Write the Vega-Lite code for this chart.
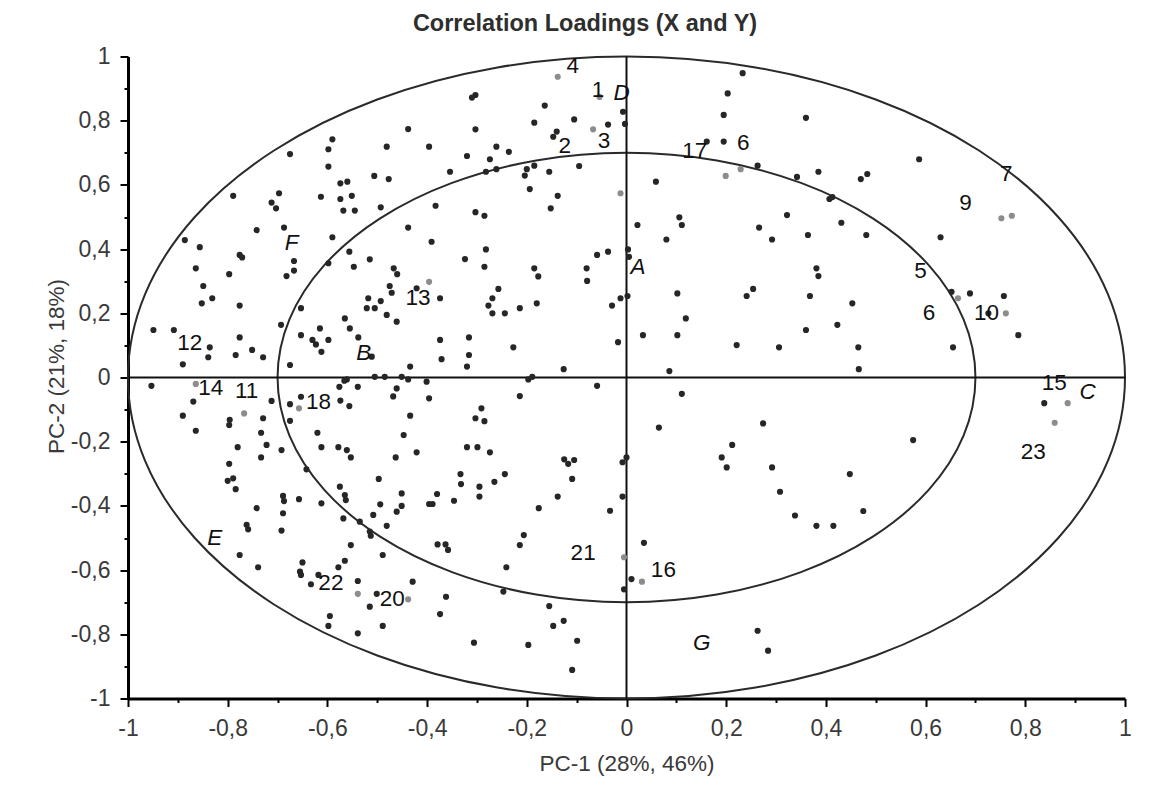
{
  "$schema": "https://vega.github.io/schema/vega-lite/v6.json",
  "autosize": {"type": "none"},
  "padding": {"left": 128, "top": 56.5, "right": 30, "bottom": 113.5},
  "width": 997,
  "height": 642,
  "background": "white",
  "title": {
    "text": "Correlation Loadings (X and Y)",
    "font": "Liberation Sans",
    "fontSize": 23.5,
    "fontWeight": "bold",
    "color": "#2e2e2e",
    "anchor": "middle",
    "dx": -41.5,
    "offset": 10
  },
  "config": {
    "view": {"stroke": null},
    "locale": {"number": {"decimal": ",", "thousands": ".", "grouping": [3], "currency": ["", " €"], "minus": "-"}}
  },
  "datasets": {
    "rings": [
      {"ring": "outer", "k": 0, "x": 1, "y": 0},
      {"ring": "outer", "k": 1, "x": 0.96593, "y": 0.25882},
      {"ring": "outer", "k": 2, "x": 0.86603, "y": 0.5},
      {"ring": "outer", "k": 3, "x": 0.70711, "y": 0.70711},
      {"ring": "outer", "k": 4, "x": 0.5, "y": 0.86603},
      {"ring": "outer", "k": 5, "x": 0.25882, "y": 0.96593},
      {"ring": "outer", "k": 6, "x": 0, "y": 1},
      {"ring": "outer", "k": 7, "x": -0.25882, "y": 0.96593},
      {"ring": "outer", "k": 8, "x": -0.5, "y": 0.86603},
      {"ring": "outer", "k": 9, "x": -0.70711, "y": 0.70711},
      {"ring": "outer", "k": 10, "x": -0.86603, "y": 0.5},
      {"ring": "outer", "k": 11, "x": -0.96593, "y": 0.25882},
      {"ring": "outer", "k": 12, "x": -1, "y": 0},
      {"ring": "outer", "k": 13, "x": -0.96593, "y": -0.25882},
      {"ring": "outer", "k": 14, "x": -0.86603, "y": -0.5},
      {"ring": "outer", "k": 15, "x": -0.70711, "y": -0.70711},
      {"ring": "outer", "k": 16, "x": -0.5, "y": -0.86603},
      {"ring": "outer", "k": 17, "x": -0.25882, "y": -0.96593},
      {"ring": "outer", "k": 18, "x": 0, "y": -1},
      {"ring": "outer", "k": 19, "x": 0.25882, "y": -0.96593},
      {"ring": "outer", "k": 20, "x": 0.5, "y": -0.86603},
      {"ring": "outer", "k": 21, "x": 0.70711, "y": -0.70711},
      {"ring": "outer", "k": 22, "x": 0.86603, "y": -0.5},
      {"ring": "outer", "k": 23, "x": 0.96593, "y": -0.25882},
      {"ring": "inner", "k": 0, "x": 0.7, "y": 0},
      {"ring": "inner", "k": 1, "x": 0.67615, "y": 0.18117},
      {"ring": "inner", "k": 2, "x": 0.60622, "y": 0.35},
      {"ring": "inner", "k": 3, "x": 0.49497, "y": 0.49497},
      {"ring": "inner", "k": 4, "x": 0.35, "y": 0.60622},
      {"ring": "inner", "k": 5, "x": 0.18117, "y": 0.67615},
      {"ring": "inner", "k": 6, "x": 0, "y": 0.7},
      {"ring": "inner", "k": 7, "x": -0.18117, "y": 0.67615},
      {"ring": "inner", "k": 8, "x": -0.35, "y": 0.60622},
      {"ring": "inner", "k": 9, "x": -0.49497, "y": 0.49497},
      {"ring": "inner", "k": 10, "x": -0.60622, "y": 0.35},
      {"ring": "inner", "k": 11, "x": -0.67615, "y": 0.18117},
      {"ring": "inner", "k": 12, "x": -0.7, "y": 0},
      {"ring": "inner", "k": 13, "x": -0.67615, "y": -0.18117},
      {"ring": "inner", "k": 14, "x": -0.60622, "y": -0.35},
      {"ring": "inner", "k": 15, "x": -0.49497, "y": -0.49497},
      {"ring": "inner", "k": 16, "x": -0.35, "y": -0.60622},
      {"ring": "inner", "k": 17, "x": -0.18117, "y": -0.67615},
      {"ring": "inner", "k": 18, "x": 0, "y": -0.7},
      {"ring": "inner", "k": 19, "x": 0.18117, "y": -0.67615},
      {"ring": "inner", "k": 20, "x": 0.35, "y": -0.60622},
      {"ring": "inner", "k": 21, "x": 0.49497, "y": -0.49497},
      {"ring": "inner", "k": 22, "x": 0.60622, "y": -0.35},
      {"ring": "inner", "k": 23, "x": 0.67615, "y": -0.18117}
    ],
    "crosshair": [
      {"x": -1, "x2": 1, "y": 0, "y2": 0},
      {"x": 0, "x2": 0, "y": -1, "y2": 1}
    ],
    "loadings": [
      {"x": -0.675, "y": 0.696, "tone": "d"}, {"x": -0.590, "y": 0.742, "tone": "d"}, {"x": -0.598, "y": 0.711, "tone": "d"},
      {"x": -0.598, "y": 0.657, "tone": "d"}, {"x": -0.481, "y": 0.719, "tone": "d"}, {"x": -0.789, "y": 0.566, "tone": "d"},
      {"x": -0.697, "y": 0.574, "tone": "d"}, {"x": -0.712, "y": 0.545, "tone": "d"}, {"x": -0.703, "y": 0.527, "tone": "d"},
      {"x": -0.613, "y": 0.563, "tone": "d"}, {"x": -0.574, "y": 0.605, "tone": "d"}, {"x": -0.560, "y": 0.610, "tone": "d"},
      {"x": -0.574, "y": 0.556, "tone": "d"}, {"x": -0.551, "y": 0.566, "tone": "d"}, {"x": -0.568, "y": 0.520, "tone": "d"},
      {"x": -0.545, "y": 0.520, "tone": "d"}, {"x": -0.506, "y": 0.628, "tone": "d"}, {"x": -0.477, "y": 0.618, "tone": "d"},
      {"x": -0.493, "y": 0.530, "tone": "d"}, {"x": -0.742, "y": 0.459, "tone": "d"}, {"x": -0.687, "y": 0.467, "tone": "d"},
      {"x": -0.590, "y": 0.437, "tone": "d"}, {"x": -0.886, "y": 0.428, "tone": "d"}, {"x": -0.856, "y": 0.406, "tone": "d"},
      {"x": -0.776, "y": 0.382, "tone": "d"}, {"x": -0.771, "y": 0.374, "tone": "d"}, {"x": -0.556, "y": 0.392, "tone": "d"},
      {"x": -0.515, "y": 0.368, "tone": "d"}, {"x": -0.598, "y": 0.356, "tone": "d"}, {"x": -0.667, "y": 0.363, "tone": "d"},
      {"x": -0.667, "y": 0.333, "tone": "d"}, {"x": -0.682, "y": 0.316, "tone": "d"}, {"x": -0.864, "y": 0.340, "tone": "d"},
      {"x": -0.797, "y": 0.322, "tone": "d"}, {"x": -0.547, "y": 0.345, "tone": "d"}, {"x": -0.467, "y": 0.340, "tone": "d"},
      {"x": -0.460, "y": 0.322, "tone": "d"}, {"x": -0.138, "y": 0.937, "tone": "g"}, {"x": 0.233, "y": 0.948, "tone": "d"},
      {"x": 0.203, "y": 0.885, "tone": "d"}, {"x": 0.195, "y": 0.818, "tone": "d"}, {"x": -0.054, "y": 0.874, "tone": "g"},
      {"x": -0.007, "y": 0.828, "tone": "d"}, {"x": -0.003, "y": 0.790, "tone": "d"}, {"x": -0.310, "y": 0.872, "tone": "d"},
      {"x": -0.303, "y": 0.880, "tone": "d"}, {"x": -0.164, "y": 0.847, "tone": "d"}, {"x": -0.185, "y": 0.794, "tone": "d"},
      {"x": -0.105, "y": 0.804, "tone": "d"}, {"x": -0.037, "y": 0.788, "tone": "d"}, {"x": -0.067, "y": 0.773, "tone": "g"},
      {"x": -0.140, "y": 0.766, "tone": "d"}, {"x": -0.147, "y": 0.750, "tone": "d"}, {"x": -0.438, "y": 0.774, "tone": "d"},
      {"x": -0.303, "y": 0.773, "tone": "d"}, {"x": -0.396, "y": 0.719, "tone": "d"}, {"x": -0.261, "y": 0.719, "tone": "d"},
      {"x": -0.320, "y": 0.690, "tone": "d"}, {"x": -0.274, "y": 0.680, "tone": "d"}, {"x": -0.236, "y": 0.703, "tone": "d"},
      {"x": -0.354, "y": 0.641, "tone": "d"}, {"x": -0.282, "y": 0.641, "tone": "d"}, {"x": -0.261, "y": 0.649, "tone": "d"},
      {"x": -0.185, "y": 0.660, "tone": "d"}, {"x": -0.200, "y": 0.649, "tone": "d"}, {"x": -0.204, "y": 0.629, "tone": "d"},
      {"x": -0.155, "y": 0.641, "tone": "d"}, {"x": -0.095, "y": 0.659, "tone": "d"}, {"x": -0.194, "y": 0.587, "tone": "d"},
      {"x": -0.138, "y": 0.566, "tone": "d"}, {"x": -0.152, "y": 0.527, "tone": "d"}, {"x": -0.012, "y": 0.574, "tone": "g"},
      {"x": 0.161, "y": 0.735, "tone": "d"}, {"x": 0.195, "y": 0.735, "tone": "d"}, {"x": 0.199, "y": 0.628, "tone": "g"},
      {"x": 0.229, "y": 0.649, "tone": "g"}, {"x": 0.263, "y": 0.660, "tone": "d"}, {"x": 0.059, "y": 0.610, "tone": "d"},
      {"x": 0.106, "y": 0.499, "tone": "d"}, {"x": 0.111, "y": 0.475, "tone": "d"}, {"x": 0.022, "y": 0.475, "tone": "d"},
      {"x": 0.080, "y": 0.430, "tone": "d"}, {"x": 0.266, "y": 0.467, "tone": "d"}, {"x": 0.292, "y": 0.430, "tone": "d"},
      {"x": -0.383, "y": 0.535, "tone": "d"}, {"x": -0.303, "y": 0.515, "tone": "d"}, {"x": -0.285, "y": 0.504, "tone": "d"},
      {"x": -0.438, "y": 0.467, "tone": "d"}, {"x": -0.391, "y": 0.423, "tone": "d"}, {"x": -0.282, "y": 0.399, "tone": "d"},
      {"x": -0.324, "y": 0.369, "tone": "d"}, {"x": -0.285, "y": 0.345, "tone": "d"}, {"x": -0.185, "y": 0.340, "tone": "d"},
      {"x": -0.177, "y": 0.315, "tone": "d"}, {"x": -0.080, "y": 0.340, "tone": "d"}, {"x": -0.059, "y": 0.382, "tone": "d"},
      {"x": -0.037, "y": 0.392, "tone": "d"}, {"x": 0.003, "y": 0.399, "tone": "d"}, {"x": 0.005, "y": 0.376, "tone": "d"},
      {"x": -0.079, "y": 0.301, "tone": "d"}, {"x": 0.360, "y": 0.809, "tone": "d"}, {"x": 0.587, "y": 0.680, "tone": "d"},
      {"x": 0.342, "y": 0.625, "tone": "d"}, {"x": 0.385, "y": 0.641, "tone": "d"}, {"x": 0.470, "y": 0.618, "tone": "d"},
      {"x": 0.483, "y": 0.634, "tone": "d"}, {"x": 0.407, "y": 0.556, "tone": "d"}, {"x": 0.413, "y": 0.562, "tone": "d"},
      {"x": 0.322, "y": 0.506, "tone": "d"}, {"x": 0.431, "y": 0.482, "tone": "d"}, {"x": 0.364, "y": 0.444, "tone": "d"},
      {"x": 0.481, "y": 0.444, "tone": "d"}, {"x": 0.630, "y": 0.437, "tone": "d"}, {"x": 0.752, "y": 0.496, "tone": "g"},
      {"x": 0.773, "y": 0.504, "tone": "g"}, {"x": 0.381, "y": 0.340, "tone": "d"}, {"x": 0.385, "y": 0.316, "tone": "d"},
      {"x": -0.849, "y": 0.285, "tone": "d"}, {"x": -0.852, "y": 0.231, "tone": "d"}, {"x": -0.831, "y": 0.247, "tone": "d"},
      {"x": -0.776, "y": 0.224, "tone": "d"}, {"x": -0.518, "y": 0.247, "tone": "d"}, {"x": -0.493, "y": 0.238, "tone": "d"},
      {"x": -0.475, "y": 0.285, "tone": "d"}, {"x": -0.471, "y": 0.264, "tone": "d"}, {"x": -0.521, "y": 0.216, "tone": "d"},
      {"x": -0.505, "y": 0.216, "tone": "d"}, {"x": -0.481, "y": 0.195, "tone": "d"}, {"x": -0.461, "y": 0.174, "tone": "d"},
      {"x": -0.653, "y": 0.216, "tone": "d"}, {"x": -0.565, "y": 0.184, "tone": "d"}, {"x": -0.555, "y": 0.153, "tone": "d"},
      {"x": -0.693, "y": 0.164, "tone": "d"}, {"x": -0.949, "y": 0.148, "tone": "d"}, {"x": -0.908, "y": 0.148, "tone": "d"},
      {"x": -0.776, "y": 0.125, "tone": "d"}, {"x": -0.836, "y": 0.094, "tone": "d"}, {"x": -0.839, "y": 0.063, "tone": "d"},
      {"x": -0.784, "y": 0.070, "tone": "d"}, {"x": -0.751, "y": 0.086, "tone": "d"}, {"x": -0.729, "y": 0.063, "tone": "d"},
      {"x": -0.890, "y": 0.041, "tone": "d"}, {"x": -0.653, "y": 0.132, "tone": "d"}, {"x": -0.615, "y": 0.153, "tone": "d"},
      {"x": -0.598, "y": 0.117, "tone": "d"}, {"x": -0.630, "y": 0.117, "tone": "d"}, {"x": -0.623, "y": 0.103, "tone": "d"},
      {"x": -0.612, "y": 0.080, "tone": "d"}, {"x": -0.538, "y": 0.125, "tone": "d"}, {"x": -0.675, "y": 0.039, "tone": "d"},
      {"x": -0.511, "y": 0.065, "tone": "d"}, {"x": -0.505, "y": 0.002, "tone": "d"}, {"x": -0.485, "y": 0.002, "tone": "d"},
      {"x": -0.561, "y": -0.006, "tone": "d"}, {"x": -0.953, "y": -0.026, "tone": "d"}, {"x": -0.864, "y": -0.020, "tone": "g"},
      {"x": -0.869, "y": -0.075, "tone": "d"}, {"x": -0.890, "y": -0.119, "tone": "d"}, {"x": -0.864, "y": -0.166, "tone": "d"},
      {"x": -0.767, "y": -0.112, "tone": "g"}, {"x": -0.796, "y": -0.132, "tone": "d"}, {"x": -0.797, "y": -0.148, "tone": "d"},
      {"x": -0.729, "y": -0.127, "tone": "d"}, {"x": -0.712, "y": -0.073, "tone": "d"}, {"x": -0.675, "y": -0.083, "tone": "d"},
      {"x": -0.675, "y": -0.135, "tone": "d"}, {"x": -0.657, "y": -0.096, "tone": "g"}, {"x": -0.653, "y": -0.060, "tone": "d"},
      {"x": -0.576, "y": -0.029, "tone": "d"}, {"x": -0.566, "y": -0.010, "tone": "d"}, {"x": -0.539, "y": -0.029, "tone": "d"},
      {"x": -0.574, "y": -0.072, "tone": "d"}, {"x": -0.556, "y": -0.089, "tone": "d"}, {"x": -0.468, "y": -0.059, "tone": "d"},
      {"x": -0.461, "y": -0.034, "tone": "d"}, {"x": -0.733, "y": -0.172, "tone": "d"}, {"x": -0.722, "y": -0.210, "tone": "d"},
      {"x": -0.780, "y": -0.217, "tone": "d"}, {"x": -0.733, "y": -0.249, "tone": "d"}, {"x": -0.692, "y": -0.226, "tone": "d"},
      {"x": -0.620, "y": -0.172, "tone": "d"}, {"x": -0.612, "y": -0.217, "tone": "d"}, {"x": -0.578, "y": -0.217, "tone": "d"},
      {"x": -0.561, "y": -0.226, "tone": "d"}, {"x": -0.553, "y": -0.249, "tone": "d"}, {"x": -0.797, "y": -0.269, "tone": "d"},
      {"x": -0.800, "y": -0.322, "tone": "d"}, {"x": -0.789, "y": -0.314, "tone": "d"}, {"x": -0.784, "y": -0.348, "tone": "d"},
      {"x": -0.642, "y": -0.286, "tone": "d"}, {"x": -0.497, "y": -0.316, "tone": "d"}, {"x": -0.575, "y": -0.340, "tone": "d"},
      {"x": -0.565, "y": -0.366, "tone": "d"}, {"x": -0.563, "y": -0.382, "tone": "d"}, {"x": -0.742, "y": -0.407, "tone": "d"},
      {"x": -0.689, "y": -0.369, "tone": "d"}, {"x": -0.687, "y": -0.385, "tone": "d"}, {"x": -0.689, "y": -0.423, "tone": "d"},
      {"x": -0.657, "y": -0.379, "tone": "d"}, {"x": -0.612, "y": -0.392, "tone": "d"}, {"x": -0.508, "y": -0.428, "tone": "d"},
      {"x": -0.494, "y": -0.395, "tone": "d"}, {"x": -0.461, "y": -0.418, "tone": "d"}, {"x": -0.692, "y": -0.477, "tone": "d"},
      {"x": -0.568, "y": -0.439, "tone": "d"}, {"x": -0.535, "y": -0.449, "tone": "d"}, {"x": -0.515, "y": -0.480, "tone": "d"},
      {"x": -0.513, "y": -0.493, "tone": "d"}, {"x": -0.481, "y": -0.462, "tone": "d"}, {"x": -0.762, "y": -0.459, "tone": "d"},
      {"x": -0.759, "y": -0.473, "tone": "d"}, {"x": -0.776, "y": -0.553, "tone": "d"}, {"x": -0.739, "y": -0.591, "tone": "d"},
      {"x": -0.553, "y": -0.522, "tone": "d"}, {"x": -0.489, "y": -0.553, "tone": "d"}, {"x": -0.565, "y": -0.571, "tone": "d"},
      {"x": -0.578, "y": -0.591, "tone": "d"}, {"x": -0.650, "y": -0.576, "tone": "d"}, {"x": -0.655, "y": -0.605, "tone": "d"},
      {"x": -0.653, "y": -0.615, "tone": "d"}, {"x": -0.633, "y": -0.644, "tone": "d"}, {"x": -0.618, "y": -0.615, "tone": "d"},
      {"x": -0.539, "y": -0.634, "tone": "d"}, {"x": -0.539, "y": -0.674, "tone": "g"}, {"x": -0.515, "y": -0.714, "tone": "d"},
      {"x": -0.501, "y": -0.674, "tone": "d"}, {"x": -0.595, "y": -0.743, "tone": "d"}, {"x": -0.598, "y": -0.774, "tone": "d"},
      {"x": -0.539, "y": -0.797, "tone": "d"}, {"x": -0.489, "y": -0.774, "tone": "d"}, {"x": -0.396, "y": 0.298, "tone": "g"},
      {"x": -0.421, "y": 0.278, "tone": "d"}, {"x": -0.374, "y": 0.247, "tone": "d"}, {"x": -0.257, "y": 0.276, "tone": "d"},
      {"x": -0.269, "y": 0.247, "tone": "d"}, {"x": -0.277, "y": 0.224, "tone": "d"}, {"x": -0.269, "y": 0.200, "tone": "d"},
      {"x": -0.244, "y": 0.200, "tone": "d"}, {"x": -0.214, "y": 0.216, "tone": "d"}, {"x": -0.180, "y": 0.231, "tone": "d"},
      {"x": -0.029, "y": 0.224, "tone": "d"}, {"x": -0.012, "y": 0.247, "tone": "d"}, {"x": 0.002, "y": 0.254, "tone": "d"},
      {"x": 0.102, "y": 0.262, "tone": "d"}, {"x": 0.119, "y": 0.184, "tone": "d"}, {"x": 0.102, "y": 0.132, "tone": "d"},
      {"x": 0.033, "y": 0.132, "tone": "d"}, {"x": 0.241, "y": 0.254, "tone": "d"}, {"x": 0.254, "y": 0.276, "tone": "d"},
      {"x": 0.221, "y": 0.101, "tone": "d"}, {"x": 0.306, "y": 0.094, "tone": "d"}, {"x": -0.017, "y": 0.110, "tone": "d"},
      {"x": -0.227, "y": 0.094, "tone": "d"}, {"x": -0.374, "y": 0.117, "tone": "d"}, {"x": -0.371, "y": 0.057, "tone": "d"},
      {"x": -0.316, "y": 0.125, "tone": "d"}, {"x": -0.316, "y": 0.070, "tone": "d"}, {"x": -0.320, "y": 0.034, "tone": "d"},
      {"x": -0.434, "y": 0.034, "tone": "d"}, {"x": -0.126, "y": 0.026, "tone": "d"}, {"x": 0.086, "y": 0.020, "tone": "d"},
      {"x": -0.451, "y": 0.002, "tone": "d"}, {"x": -0.438, "y": -0.006, "tone": "d"}, {"x": -0.401, "y": -0.013, "tone": "d"},
      {"x": -0.197, "y": -0.006, "tone": "d"}, {"x": -0.189, "y": 0.002, "tone": "d"}, {"x": -0.059, "y": -0.026, "tone": "d"},
      {"x": 0.111, "y": -0.051, "tone": "d"}, {"x": -0.396, "y": -0.065, "tone": "d"}, {"x": -0.214, "y": -0.058, "tone": "d"},
      {"x": -0.434, "y": -0.119, "tone": "d"}, {"x": -0.291, "y": -0.096, "tone": "d"}, {"x": -0.303, "y": -0.127, "tone": "d"},
      {"x": -0.285, "y": -0.136, "tone": "d"}, {"x": 0.065, "y": -0.156, "tone": "d"}, {"x": 0.274, "y": -0.143, "tone": "d"},
      {"x": -0.447, "y": -0.179, "tone": "d"}, {"x": -0.463, "y": -0.249, "tone": "d"}, {"x": -0.421, "y": -0.233, "tone": "d"},
      {"x": -0.320, "y": -0.217, "tone": "d"}, {"x": -0.299, "y": -0.217, "tone": "d"}, {"x": -0.274, "y": -0.233, "tone": "d"},
      {"x": -0.125, "y": -0.255, "tone": "d"}, {"x": -0.117, "y": -0.269, "tone": "d"}, {"x": -0.105, "y": -0.257, "tone": "d"},
      {"x": -0.008, "y": -0.264, "tone": "d"}, {"x": 0.000, "y": -0.249, "tone": "d"}, {"x": -0.109, "y": -0.316, "tone": "d"},
      {"x": 0.191, "y": -0.249, "tone": "d"}, {"x": 0.201, "y": -0.280, "tone": "d"}, {"x": 0.212, "y": -0.210, "tone": "d"},
      {"x": 0.292, "y": -0.280, "tone": "d"}, {"x": -0.333, "y": -0.301, "tone": "d"}, {"x": -0.332, "y": -0.332, "tone": "d"},
      {"x": -0.244, "y": -0.301, "tone": "d"}, {"x": -0.265, "y": -0.325, "tone": "d"}, {"x": -0.295, "y": -0.340, "tone": "d"},
      {"x": -0.295, "y": -0.371, "tone": "d"}, {"x": -0.451, "y": -0.361, "tone": "d"}, {"x": -0.451, "y": -0.400, "tone": "d"},
      {"x": -0.380, "y": -0.363, "tone": "d"}, {"x": -0.396, "y": -0.394, "tone": "d"}, {"x": -0.389, "y": -0.394, "tone": "d"},
      {"x": -0.346, "y": -0.384, "tone": "d"}, {"x": -0.138, "y": -0.371, "tone": "d"}, {"x": -0.008, "y": -0.371, "tone": "d"},
      {"x": -0.176, "y": -0.407, "tone": "d"}, {"x": -0.033, "y": -0.415, "tone": "d"}, {"x": 0.308, "y": -0.356, "tone": "d"},
      {"x": -0.379, "y": -0.520, "tone": "d"}, {"x": -0.363, "y": -0.520, "tone": "d"}, {"x": -0.358, "y": -0.537, "tone": "d"},
      {"x": -0.206, "y": -0.491, "tone": "d"}, {"x": -0.214, "y": -0.522, "tone": "d"}, {"x": -0.241, "y": -0.591, "tone": "d"},
      {"x": -0.429, "y": -0.636, "tone": "d"}, {"x": -0.438, "y": -0.691, "tone": "g"}, {"x": -0.362, "y": -0.683, "tone": "d"},
      {"x": -0.374, "y": -0.737, "tone": "d"}, {"x": -0.247, "y": -0.667, "tone": "d"}, {"x": -0.155, "y": -0.712, "tone": "d"},
      {"x": -0.147, "y": -0.774, "tone": "d"}, {"x": -0.126, "y": -0.758, "tone": "d"}, {"x": -0.099, "y": -0.820, "tone": "d"},
      {"x": -0.197, "y": -0.833, "tone": "d"}, {"x": -0.306, "y": -0.826, "tone": "d"}, {"x": -0.109, "y": -0.911, "tone": "d"},
      {"x": -0.005, "y": -0.560, "tone": "g"}, {"x": 0.035, "y": -0.515, "tone": "d"}, {"x": 0.010, "y": -0.628, "tone": "d"},
      {"x": 0.031, "y": -0.636, "tone": "g"}, {"x": -0.005, "y": -0.660, "tone": "d"}, {"x": 0.263, "y": -0.789, "tone": "d"},
      {"x": 0.284, "y": -0.851, "tone": "d"}, {"x": 0.338, "y": -0.430, "tone": "d"}, {"x": 0.381, "y": -0.462, "tone": "d"},
      {"x": 0.415, "y": -0.462, "tone": "d"}, {"x": 0.475, "y": -0.416, "tone": "d"}, {"x": 0.368, "y": 0.254, "tone": "d"},
      {"x": 0.453, "y": 0.231, "tone": "d"}, {"x": 0.360, "y": 0.148, "tone": "d"}, {"x": 0.423, "y": 0.164, "tone": "d"},
      {"x": 0.465, "y": 0.094, "tone": "d"}, {"x": 0.466, "y": 0.026, "tone": "d"}, {"x": 0.652, "y": 0.267, "tone": "d"},
      {"x": 0.665, "y": 0.247, "tone": "g"}, {"x": 0.689, "y": 0.262, "tone": "d"}, {"x": 0.757, "y": 0.254, "tone": "d"},
      {"x": 0.726, "y": 0.200, "tone": "d"}, {"x": 0.761, "y": 0.200, "tone": "g"}, {"x": 0.786, "y": 0.132, "tone": "d"},
      {"x": 0.655, "y": 0.094, "tone": "d"}, {"x": 0.838, "y": -0.080, "tone": "d"}, {"x": 0.885, "y": -0.080, "tone": "g"},
      {"x": 0.859, "y": -0.141, "tone": "g"}, {"x": 0.575, "y": -0.195, "tone": "d"}, {"x": 0.448, "y": -0.301, "tone": "d"}
    ],
    "numbers": [
      {"x": -0.108, "y": 0.970, "t": "4"}, {"x": -0.057, "y": 0.896, "t": "1"}, {"x": -0.124, "y": 0.721, "t": "2"},
      {"x": -0.045, "y": 0.738, "t": "3"}, {"x": 0.137, "y": 0.707, "t": "17"}, {"x": 0.234, "y": 0.731, "t": "6"},
      {"x": 0.762, "y": 0.634, "t": "7"}, {"x": 0.680, "y": 0.543, "t": "9"}, {"x": 0.590, "y": 0.333, "t": "5"},
      {"x": -0.418, "y": 0.247, "t": "13"}, {"x": 0.607, "y": 0.200, "t": "6"}, {"x": 0.722, "y": 0.202, "t": "10"},
      {"x": -0.876, "y": 0.108, "t": "12"}, {"x": -0.834, "y": -0.032, "t": "14"}, {"x": -0.762, "y": -0.041, "t": "11"},
      {"x": -0.618, "y": -0.075, "t": "18"}, {"x": 0.858, "y": -0.017, "t": "15"}, {"x": 0.816, "y": -0.232, "t": "23"},
      {"x": -0.087, "y": -0.548, "t": "21"}, {"x": 0.074, "y": -0.600, "t": "16"}, {"x": -0.593, "y": -0.639, "t": "22"},
      {"x": -0.470, "y": -0.691, "t": "20"}
    ],
    "letters": [
      {"x": -0.010, "y": 0.885, "t": "D"}, {"x": -0.672, "y": 0.418, "t": "F"}, {"x": 0.023, "y": 0.343, "t": "A"},
      {"x": -0.527, "y": 0.075, "t": "B"}, {"x": 0.925, "y": -0.044, "t": "C"}, {"x": -0.826, "y": -0.501, "t": "E"},
      {"x": 0.151, "y": -0.826, "t": "G"}
    ]
  },
  "encoding": {
    "x": {
      "field": "x",
      "type": "quantitative",
      "scale": {"domain": [-1, 1], "nice": false, "zero": false},
      "axis": {
        "values": [-1, -0.9, -0.8, -0.7, -0.6, -0.5, -0.4, -0.3, -0.2, -0.1, 0, 0.1, 0.2, 0.3, 0.4, 0.5, 0.6, 0.7, 0.8, 0.9, 1],
        "title": "PC-1 (28%, 46%)",
        "grid": false,
        "domainColor": "#000000",
        "domainWidth": 3,
        "tickColor": "#000000",
        "tickWidth": 2,
        "tickSize": {"condition": {"test": "abs(round(datum.value * 10)) % 2 == 1", "value": 4}, "value": 8},
        "labelExpr": "abs(round(datum.value * 10)) % 2 == 1 ? '' : replace(replace(format(datum.value, '.1~f'), '.', ','), '\u2212', '-')",
        "labelFont": "Liberation Sans",
        "labelFontSize": 23,
        "labelColor": "#3a3a3a",
        "labelPadding": 11,
        "labelFlush": false,
        "labelOverlap": false,
        "labelBound": false,
        "titleFont": "Liberation Sans",
        "titleFontSize": 22.5,
        "titleFontWeight": "normal",
        "titleColor": "#3a3a3a",
        "titleY": 71.5,
        "titleBaseline": "alphabetic"
      }
    },
    "y": {
      "field": "y",
      "type": "quantitative",
      "scale": {"domain": [-1, 1], "nice": false, "zero": false},
      "axis": {
        "values": [-1, -0.9, -0.8, -0.7, -0.6, -0.5, -0.4, -0.3, -0.2, -0.1, 0, 0.1, 0.2, 0.3, 0.4, 0.5, 0.6, 0.7, 0.8, 0.9, 1],
        "title": "PC-2 (21%, 18%)",
        "grid": false,
        "domainColor": "#000000",
        "domainWidth": 3,
        "tickColor": "#000000",
        "tickWidth": 2,
        "tickSize": {"condition": {"test": "abs(round(datum.value * 10)) % 2 == 1", "value": 4}, "value": 8},
        "labelExpr": "abs(round(datum.value * 10)) % 2 == 1 ? '' : replace(replace(format(datum.value, '.1~f'), '.', ','), '\u2212', '-')",
        "labelFont": "Liberation Sans",
        "labelFontSize": 23,
        "labelColor": "#3a3a3a",
        "labelPadding": 10,
        "labelFlush": false,
        "labelOverlap": false,
        "labelBound": false,
        "titleFont": "Liberation Sans",
        "titleFontSize": 22.5,
        "titleFontWeight": "normal",
        "titleColor": "#3a3a3a",
        "titleX": -72,
        "titleY": 309.5,
        "titleBaseline": "middle"
      }
    }
  },
  "layer": [
    {
      "data": {"name": "rings"},
      "mark": {"type": "line", "interpolate": "cardinal-closed", "stroke": "#2a2a2a", "strokeWidth": 2},
      "encoding": {
        "detail": {"field": "ring", "type": "nominal"},
        "order": {"field": "k", "type": "quantitative"}
      }
    },
    {
      "data": {"name": "crosshair"},
      "mark": {"type": "rule", "stroke": "#111111", "strokeWidth": 2},
      "encoding": {
        "x2": {"field": "x2"},
        "y2": {"field": "y2"}
      }
    },
    {
      "data": {"name": "loadings"},
      "mark": {"type": "circle", "size": 38, "opacity": 1},
      "encoding": {
        "color": {
          "field": "tone",
          "type": "nominal",
          "scale": {"domain": ["d", "g"], "range": ["#262626", "#8c8c8c"]},
          "legend": null
        }
      }
    },
    {
      "data": {"name": "numbers"},
      "mark": {"type": "text", "font": "Liberation Sans", "fontSize": 22.5, "color": "#111111", "align": "center", "baseline": "middle"},
      "encoding": {"text": {"field": "t"}}
    },
    {
      "data": {"name": "letters"},
      "mark": {"type": "text", "font": "Liberation Sans", "fontSize": 22.5, "fontStyle": "italic", "color": "#111111", "align": "center", "baseline": "middle"},
      "encoding": {"text": {"field": "t"}}
    }
  ]
}
